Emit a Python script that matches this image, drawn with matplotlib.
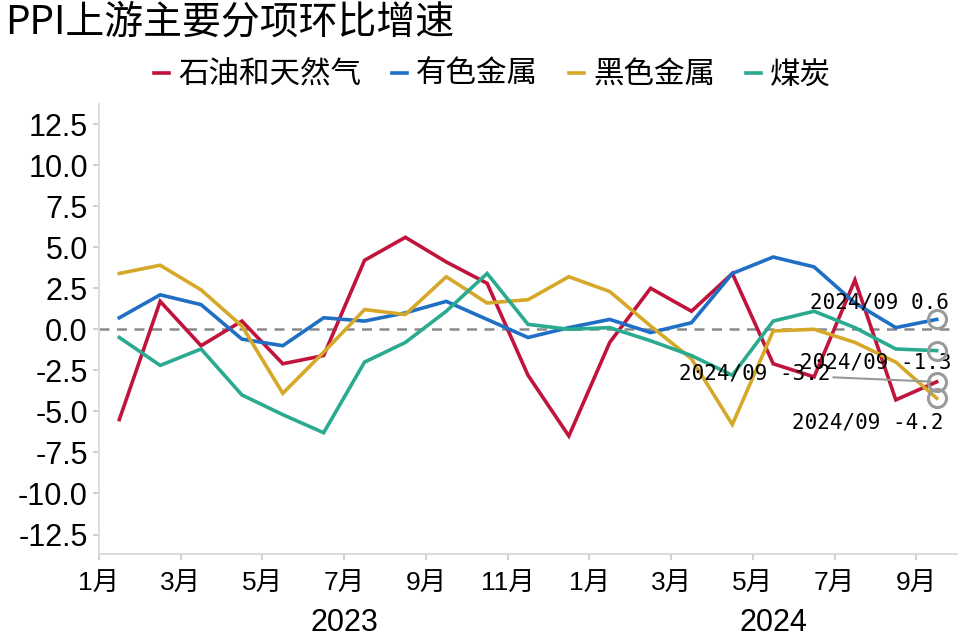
import matplotlib
matplotlib.use('Agg')
import matplotlib.pyplot as plt
import matplotlib.transforms as mtransforms

plt.rcParams['font.family'] = ['Liberation Sans', 'Noto Sans CJK SC']

# monthly data, 2023/01 .. 2024/09
months = list(range(1, 13)) + list(range(1, 10))
oil_gas = [-5.5, 1.7, -1.0, 0.5, -2.1, -1.6, 4.2, 5.6, 4.1, 2.8, -2.8, -6.5,
           -0.8, 2.5, 1.1, 3.4, -2.1, -2.9, 3.0, -4.3, -3.2]
nonferrous = [0.7, 2.1, 1.5, -0.6, -1.0, 0.7, 0.5, 1.0, 1.7, 0.6, -0.5, 0.1,
              0.6, -0.2, 0.4, 3.4, 4.4, 3.8, 1.6, 0.1, 0.6]
ferrous = [3.4, 3.9, 2.4, 0.2, -3.9, -1.4, 1.2, 0.9, 3.2, 1.6, 1.8, 3.2,
           2.3, 0.2, -1.8, -5.8, -0.1, 0.0, -0.8, -2.0, -4.2]
coal = [-0.5, -2.2, -1.2, -4.0, -5.2, -6.3, -2.0, -0.8, 1.1, 3.4, 0.3, 0.0,
        0.1, -0.7, -1.6, -2.8, 0.5, 1.1, 0.1, -1.2, -1.3]

series_names = ['石油和天然气', '有色金属', '黑色金属', '煤炭']
series_colors = ['#C0143C', '#1F6FC4', '#D6A82A', '#2AAA8F']
years = ['2023', '2024']

fig = plt.figure(figsize=(9.6, 6.4), dpi=100)
ax = fig.add_axes([0.103, 0.134, 0.894, 0.703])

x = list(range(len(months)))
for vals, name, col in zip([oil_gas, nonferrous, ferrous, coal], series_names, series_colors):
    ax.plot(x, vals, color=col, lw=2.6, label=name, solid_joinstyle='miter')

ax.axhline(0, color='#8a8a8a', lw=1.8, ls=(0, (4, 3)), zorder=1)

# rings and labels on the last point
for vals in [oil_gas, nonferrous, ferrous, coal]:
    ax.plot(x[-1], vals[-1], 'o', ms=13, mfc='none', mec='#9a9a9a', mew=2.2, zorder=5)

ann_font = dict(family=['DejaVu Sans Mono', 'Noto Sans CJK SC'], fontsize=15, color='black')
ax.text(20.3, 1.66, '2024/09 0.6', ha='right', va='center', **ann_font)
ax.text(20.37, -2.0, '2024/09 -1.3', ha='right', va='center', **ann_font)
ax.text(20.17, -5.7, '2024/09 -4.2', ha='right', va='center', **ann_font)
ax.annotate('2024/09 -3.2', xy=(x[-1], oil_gas[-1]), xytext=(17.4, -2.72),
            ha='right', va='center',
            arrowprops=dict(arrowstyle='-', color='#999999', lw=1.5, shrinkA=0, shrinkB=4),
            **ann_font)

ax.set_xlim(-0.5, 20.5)
ax.set_ylim(-13.7, 13.7)
ax.set_yticks([-12.5, -10, -7.5, -5, -2.5, 0, 2.5, 5, 7.5, 10, 12.5])
ax.set_yticklabels(['%.1f' % v for v in ax.get_yticks()], fontsize=22)
ticks = [i for i in x if i % 2 == 0]
ax.set_xticks([i - 0.5 for i in ticks])
ax.set_xticklabels(['%d月' % months[i] for i in ticks], fontsize=19)
ax.tick_params(axis='both', color='#c8c8c8', length=4, width=1.2)
ax.tick_params(axis='x', pad=9)
ax.tick_params(axis='y', pad=4)

for side in ['top', 'right']:
    ax.spines[side].set_visible(False)
for side in ['left', 'bottom']:
    ax.spines[side].set_color('#d9d9d9')
    ax.spines[side].set_linewidth(1.3)

trans = mtransforms.blended_transform_factory(ax.transData, fig.transFigure)
ax.text(5.5, 0.027, years[0], transform=trans, ha='center', va='center', fontsize=22)
ax.text(16, 0.027, years[1], transform=trans, ha='center', va='center', fontsize=22)

fig.text(0.005, 0.965, 'PPI上游主要分项环比增速', ha='left', va='center',
         family=['Noto Sans CJK SC', 'DejaVu Sans'], fontsize=28)
fig.legend(loc='center', bbox_to_anchor=(0.513, 0.883), ncol=4, frameon=False,
           prop=dict(family=['Noto Sans CJK SC', 'DejaVu Sans'], size=22),
           handlelength=0.5, handletextpad=0.3, columnspacing=1.0)

fig.savefig('out.png', dpi=100)
